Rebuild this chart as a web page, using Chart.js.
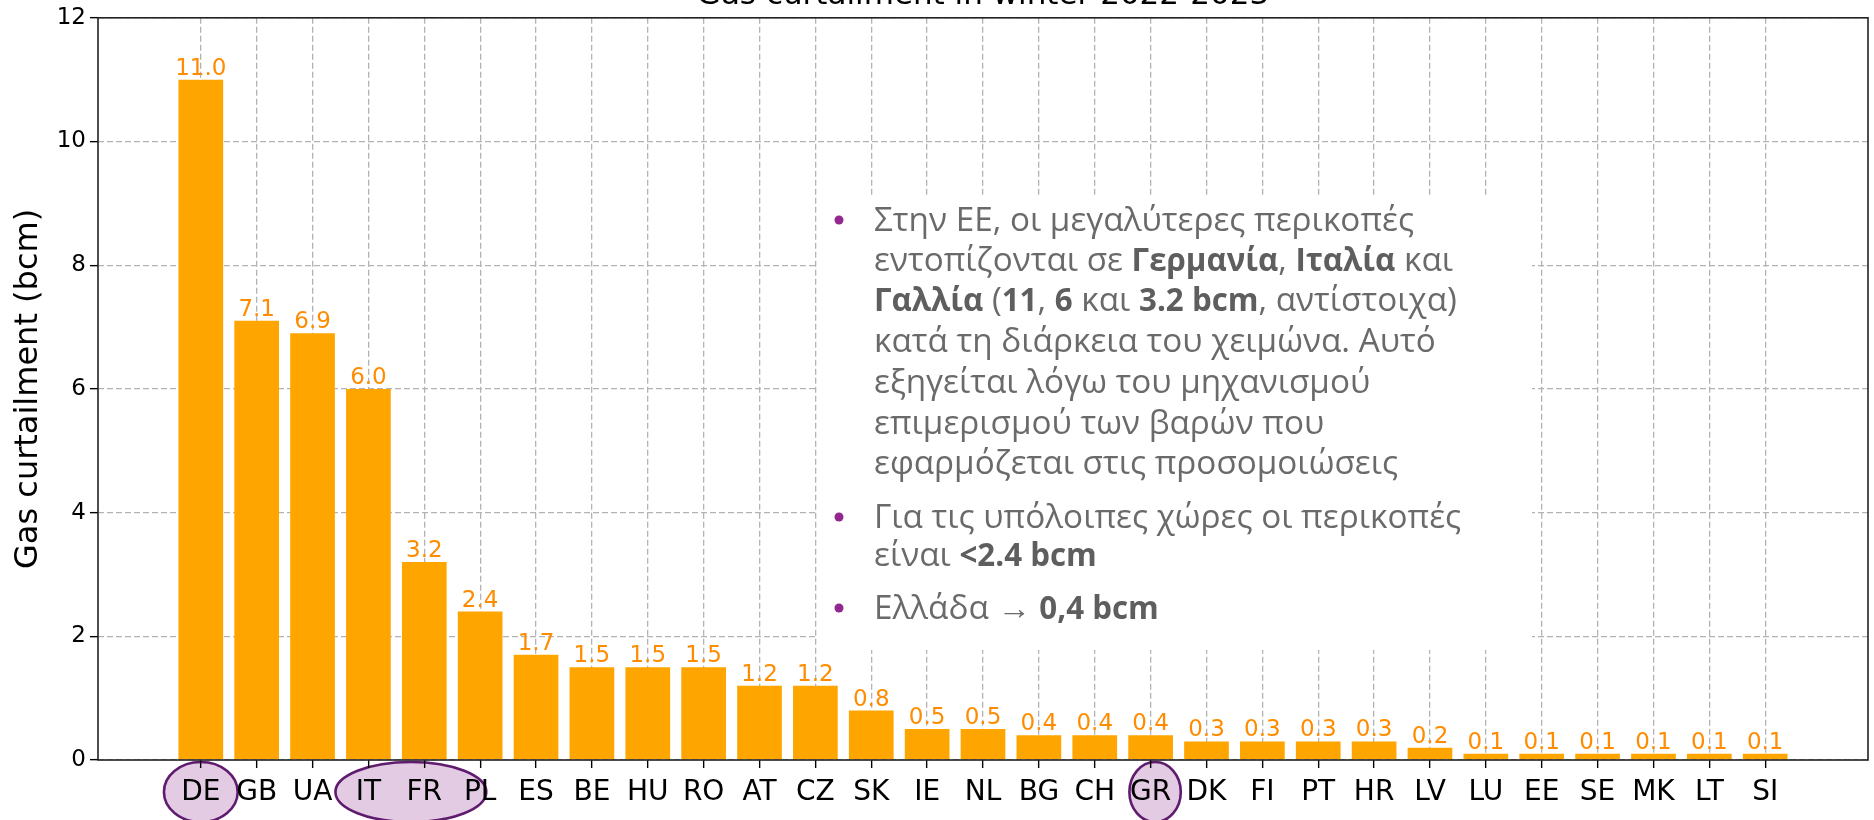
<!DOCTYPE html>
<html><head><meta charset="utf-8">
<script src="https://cdn.jsdelivr.net/npm/chart.js@4.4.0/dist/chart.umd.min.js"></script>
<style>html,body{margin:0;padding:0;background:#fff;overflow:hidden}</style>
</head><body>
<canvas id="c" width="1874" height="820"></canvas>
<script>
// ---- data ----
const categories = ['DE','GB','UA','IT','FR','PL','ES','BE','HU','RO','AT','CZ','SK','IE','NL','BG','CH','GR','DK','FI','PT','HR','LV','LU','EE','SE','MK','LT','SI'];
const curtailment = [11.0,7.1,6.9,6.0,3.2,2.4,1.7,1.5,1.5,1.5,1.2,1.2,0.8,0.5,0.5,0.4,0.4,0.4,0.3,0.3,0.3,0.3,0.2,0.1,0.1,0.1,0.1,0.1,0.1];
const yTicks = [0,2,4,6,8,10,12];
const chartTitle = 'Gas curtailment in winter 2022-2023';
const yAxisLabel = 'Gas curtailment (bcm)';
const highlighted = [['DE'],['IT','FR'],['GR']];
const noteBullets = [
  ['Στην ΕΕ, οι μεγαλύτερες περικοπές',
   'εντοπίζονται σε **Γερμανία**, **Ιταλία** και',
   '**Γαλλία** (**11**, **6** και **3.2 bcm**, αντίστοιχα)',
   'κατά τη διάρκεια του χειμώνα. Αυτό',
   'εξηγείται λόγω του μηχανισμού',
   'επιμερισμού των βαρών που',
   'εφαρμόζεται στις προσομοιώσεις'],
  ['Για τις υπόλοιπες χώρες οι περικοπές',
   'είναι **<2.4 bcm**'],
  ['Ελλάδα → **0,4 bcm**']
];

// ---- styling / layout ----
const ellipseStyle = [
  {dx:0, rx:0.66},
  {dx:0.26, rx:1.35},
  {dx:0.08, rx:0.46}
];
const bulletY = [[222,262,302,343,384,425,465],[519,557],[610]];

const points = curtailment.map((v,i)=>({x:i, y:v}));

const decor = {
  id:'decor',
  beforeDraw(chart){
    const ctx = chart.ctx, xs = chart.scales.x;
    ctx.save();
    ctx.fillStyle = '#fff'; ctx.fillRect(0,0,chart.width,chart.height);
    const unit = xs.getPixelForValue(1) - xs.getPixelForValue(0);
    highlighted.forEach((grp,k)=>{
      const idx = grp.map(c=>categories.indexOf(c));
      const c = (Math.min(...idx)+Math.max(...idx))/2 + ellipseStyle[k].dx;
      const cx = xs.getPixelForValue(c);
      ctx.beginPath();
      ctx.ellipse(cx, 792, ellipseStyle[k].rx*unit, 30, 0, 0, Math.PI*2);
      ctx.fillStyle = '#e3cbe4'; ctx.fill();
      ctx.lineWidth = 2.6; ctx.strokeStyle = '#5f1b6d'; ctx.stroke();
    });
    ctx.restore();
  },
  afterDatasetsDraw(chart){
    const ctx = chart.ctx;
    ctx.save();
    ctx.font = '23px "DejaVu Sans"';
    ctx.fillStyle = '#ff8c00';
    ctx.textAlign = 'center'; ctx.textBaseline = 'alphabetic';
    chart.getDatasetMeta(0).data.forEach((bar,i)=>{
      ctx.fillText(curtailment[i].toFixed(1), bar.x, bar.y - 5);
    });
    ctx.restore();
  },
  afterDraw(chart){
    const ctx = chart.ctx, a = chart.chartArea;
    ctx.save();
    // note box
    ctx.fillStyle = '#fff';
    ctx.fillRect(818, 197, 714, 453);
    // frame
    ctx.setLineDash([]);
    ctx.strokeStyle = '#222'; ctx.lineWidth = 1.6;
    ctx.strokeRect(a.left, a.top, a.right-a.left, a.bottom-a.top);
    // title (cut off at top as in original)
    ctx.fillStyle = '#000';
    ctx.font = '31px "DejaVu Sans"';
    ctx.textAlign = 'center'; ctx.textBaseline = 'alphabetic';
    ctx.fillText(chartTitle, (a.left+a.right)/2, 4);
    // y label
    ctx.save();
    ctx.translate(29, (a.top+a.bottom)/2);
    ctx.rotate(-Math.PI/2);
    ctx.textBaseline = 'middle';
    ctx.font = '32px "DejaVu Sans"';
    ctx.fillText(yAxisLabel, 0, 0);
    ctx.restore();
    // notes
    const fs = 32, bsx = 0.94;
    const fN = fs+'px "Open Sans"', fB = 'bold '+fs+'px "Open Sans"';
    const parse = s => s.split('**').map((t,i)=>({t, b:i%2===1})).filter(p=>p.t.length);
    const widthOf = segs => segs.reduce((w,p)=>{ctx.font = p.b?fB:fN; return w+ctx.measureText(p.t).width*(p.b?bsx:1);},0);
    const sx = 540 / widthOf(parse(noteBullets[0][0]));
    ctx.textAlign = 'left'; ctx.textBaseline = 'middle';
    noteBullets.forEach((lines,bi)=>{
      ctx.beginPath(); ctx.arc(839, bulletY[bi][0]-2, 4.5, 0, Math.PI*2);
      ctx.fillStyle = '#93278f'; ctx.fill();
      lines.forEach((ln,li)=>{
        const y = bulletY[bi][li];
        ctx.save(); ctx.translate(874, y); ctx.scale(sx,1);
        let x = 0;
        parse(ln).forEach(p=>{
          ctx.font = p.b?fB:fN; ctx.fillStyle = p.b ? '#5e5e5e' : '#6a6a6a';
          const k = p.b ? bsx : 1;
          ctx.save(); ctx.translate(x,0); ctx.scale(k,1);
          ctx.fillText(p.t, 0, 0);
          ctx.restore();
          x += ctx.measureText(p.t).width*k;
        });
        ctx.restore();
      });
    });
    ctx.restore();
  }
};

new Chart(document.getElementById('c'), {
  type:'bar',
  data:{ datasets:[{ data: points, backgroundColor:'#ffa500', borderWidth:0,
    barPercentage:0.8, categoryPercentage:1.0 }] },
  options:{
    responsive:false, animation:false, devicePixelRatio:1,
    layout:{ padding:{ left:0, right:6, top:15, bottom:0 } },
    plugins:{ legend:{display:false}, tooltip:{enabled:false}, title:{display:false} },
    scales:{
      x:{ type:'linear', min:-1.84, max:29.84, z:1, offset:false,
        afterBuildTicks: s => { s.ticks = categories.map((_,i)=>({value:i})); },
        afterFit: s => { s.height = 60; },
        ticks:{ autoSkip:false, maxRotation:0, minRotation:0, padding:8, color:'#000',
          font:{ family:'DejaVu Sans', size:28 },
          callback: v => categories[v] },
        grid:{ offset:false, color:'#b3b3b3', lineWidth:1.3, tickColor:'#000', tickLength:8, tickWidth:1.4, tickBorderDash:[] },
        border:{ display:false, dash:[6,3] }
      },
      y:{ min:0, max:12, z:1,
        afterBuildTicks: s => { s.ticks = yTicks.map(v=>({value:v})); },
        afterFit: s => { s.width = 98; },
        ticks:{ padding:4, color:'#000', font:{ family:'DejaVu Sans', size:23 } },
        grid:{ color:'#b3b3b3', lineWidth:1.3, tickColor:'#000', tickLength:8, tickWidth:1.4, tickBorderDash:[] },
        border:{ display:false, dash:[6,3] }
      }
    }
  },
  plugins:[decor]
});
</script>
</body></html>
